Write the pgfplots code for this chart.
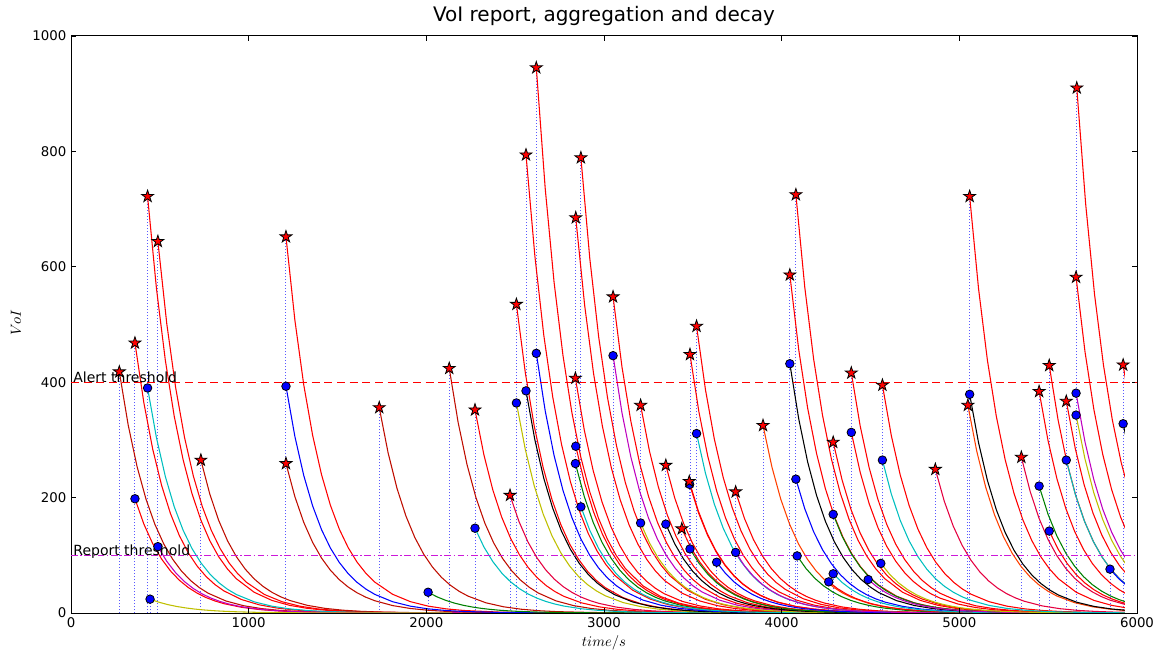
\documentclass[border=0pt]{standalone}
\usepackage{fontspec}
\setmainfont{DejaVu Sans}
\usepackage{pgfplots}
\usepackage{pgfplotstable}
\pgfplotsset{compat=1.18}
\definecolor{mb}{rgb}{0,0,1}
\definecolor{mg}{rgb}{0,0.5,0}
\definecolor{mr}{rgb}{1,0,0}
\definecolor{mc}{rgb}{0,0.75,0.75}
\definecolor{mm}{rgb}{0.75,0,0.75}
\definecolor{my}{rgb}{0.75,0.75,0}
\definecolor{mk}{rgb}{0,0,0}
\definecolor{dred}{rgb}{0.75,0.05,0}
\definecolor{ored}{rgb}{1,0.25,0}
\definecolor{cred}{rgb}{0.9,0,0.25}
\definecolor{vline}{rgb}{0.35,0.35,1}
\definecolor{rline}{rgb}{0.8,0.1,0.85}

\pgfdeclareplotmark{fstar}{%
  \pgfpathmoveto{\pgfpointpolar{90}{\pgfplotmarksize}}%
  \pgfpathlineto{\pgfpointpolar{126}{0.382\pgfplotmarksize}}%
  \pgfpathlineto{\pgfpointpolar{162}{\pgfplotmarksize}}%
  \pgfpathlineto{\pgfpointpolar{198}{0.382\pgfplotmarksize}}%
  \pgfpathlineto{\pgfpointpolar{234}{\pgfplotmarksize}}%
  \pgfpathlineto{\pgfpointpolar{270}{0.382\pgfplotmarksize}}%
  \pgfpathlineto{\pgfpointpolar{306}{\pgfplotmarksize}}%
  \pgfpathlineto{\pgfpointpolar{342}{0.382\pgfplotmarksize}}%
  \pgfpathlineto{\pgfpointpolar{18}{\pgfplotmarksize}}%
  \pgfpathlineto{\pgfpointpolar{54}{0.382\pgfplotmarksize}}%
  \pgfpathclose
  \pgfusepathqfillstroke
}

% decay profile read from the curves (fraction of start value vs. elapsed time)
\pgfplotstableread{
dt f
0 1
50 0.7788
100 0.6065
150 0.4724
200 0.3679
250 0.2865
300 0.2231
350 0.1738
400 0.1353
450 0.1054
500 0.0821
600 0.0498
700 0.0302
800 0.0183
900 0.0111
1000 0.0067
1200 0.0025
1400 0.0009
1700 0.0002
}\decay

% aggregated VoI (stars)
\pgfplotstableread{
t v
272 418
360 468
431 722
489 644
731 265
1210 652
1210 259
1735 356
2129 424
2274 352
2471 204
2507 535
2561 794
2619 945
2841 685
2870 789
2839 407
3051 548
3206 360
3348 256
3438 146
3484 448
3521 497
3480 228
3741 210
3895 325
4046 586
4080 725
4290 296
4392 416
4567 395
4865 249
5058 722
5048 360
5349 270
5449 384
5506 429
5602 367
5657 582
5661 910
5922 430
}\stars

% reports (circles)
\pgfplotstableread{
t v
360 198
431 390
489 115
445 24
1210 393
2010 36
2274 147
2507 364
2561 385
2619 450
2839 259
2841 289
2870 184
3051 446
3206 156
3348 154
3484 111
3482 223
3521 311
3634 88
3741 105
4046 432
4080 232
4087 99
4265 54
4290 68
4290 171
4392 313
4487 58
4558 86
4567 265
5058 379
5449 220
5506 142
5602 265
5657 381
5657 343
5848 76
5922 328
}\circs

\newcommand{\dec}[3]{\addplot[#1] table[x expr=\thisrow{dt}+#2, y expr=\thisrow{f}*#3] {\decay};}

\begin{document}
\begin{tikzpicture}
% curves, clipped at the end of the run (t = 5932 s)
\begin{axis}[
  scale only axis, width=790.44pt, height=432.75pt,
  xmin=0, xmax=5932, ymin=0, ymax=1000,
  hide axis, clip=true,
  every axis plot/.append style={line width=0.8pt, no markers},
]
\addplot[ycomb, vline, line width=0.75pt, dash pattern=on 0.75pt off 1.5pt] table[x=t, y=v] {\stars};
\addplot[ycomb, vline, line width=0.75pt, dash pattern=on 0.75pt off 1.5pt] table[x=t, y=v] {\circs};
% star curves
\dec{dred}{272}{418}
\dec{mr}{360}{468}
\dec{mr}{431}{722}
\dec{mr}{489}{644}
\dec{dred}{731}{265}
\dec{mr}{1210}{652}
\dec{dred}{1210}{259}
\dec{dred}{1735}{356}
\dec{dred}{2129}{424}
\dec{mr}{2274}{352}
\dec{cred}{2471}{204}
\dec{mr}{2507}{535}
\dec{mr}{2561}{794}
\dec{mr}{2619}{945}
\dec{mr}{2841}{685}
\dec{mr}{2870}{789}
\dec{mr}{2839}{407}
\dec{mr}{3051}{548}
\dec{mr}{3206}{360}
\dec{mr}{3348}{256}
\dec{mr}{3438}{146}
\dec{mr}{3484}{448}
\dec{mr}{3521}{497}
\dec{mr}{3480}{228}
\dec{mr}{3741}{210}
\dec{ored}{3895}{325}
\dec{mr}{4046}{586}
\dec{mr}{4080}{725}
\dec{mr}{4290}{296}
\dec{mr}{4392}{416}
\dec{mr}{4567}{395}
\dec{cred}{4865}{249}
\dec{mr}{5058}{722}
\dec{ored}{5048}{360}
\dec{cred}{5349}{270}
\dec{mr}{5449}{384}
\dec{mr}{5506}{429}
\dec{mr}{5602}{367}
\dec{mr}{5657}{582}
\dec{mr}{5661}{910}
\dec{mr}{5922}{430}
% report curves
\dec{mr}{360}{198}
\dec{mc}{431}{390}
\dec{mm}{489}{115}
\dec{my}{445}{24}
\dec{mb}{1210}{393}
\dec{mg}{2010}{36}
\dec{mc}{2274}{147}
\dec{my}{2507}{364}
\dec{mk}{2561}{385}
\dec{mb}{2619}{450}
\dec{mg}{2839}{259}
\dec{mr}{2841}{289}
\dec{mc}{2870}{184}
\dec{mm}{3051}{446}
\dec{my}{3206}{156}
\dec{mk}{3348}{154}
\dec{mg}{3484}{111}
\dec{mr}{3482}{223}
\dec{mc}{3521}{311}
\dec{mb}{3634}{88}
\dec{mm}{3741}{105}
\dec{mk}{4046}{432}
\dec{mb}{4080}{232}
\dec{mg}{4087}{99}
\dec{mr}{4265}{54}
\dec{mc}{4290}{68}
\dec{mg}{4290}{171}
\dec{mr}{4392}{313}
\dec{mm}{4487}{58}
\dec{my}{4558}{86}
\dec{mc}{4567}{265}
\dec{mk}{5058}{379}
\dec{mg}{5449}{220}
\dec{mr}{5506}{142}
\dec{mc}{5602}{265}
\dec{mm}{5657}{381}
\dec{my}{5657}{343}
\dec{mb}{5848}{76}
\dec{mk}{5922}{328}
\end{axis}
% main axis
\begin{axis}[
  scale only axis, width=799.5pt, height=432.75pt,
  xmin=0, xmax=6000, ymin=0, ymax=1000,
  xtick={0,1000,...,6000}, ytick={0,200,...,1000},
  tick align=inside, tick pos=both,
  major tick length=4pt,
  tick style={black, line width=0.6pt},
  axis line style={black, line width=0.75pt},
  ticklabel style={font=\fontsize{10}{12}\selectfont},
  /pgf/number format/assume math mode=true,
  /pgf/number format/1000 sep={},
  title={VoI report, aggregation and decay},
  title style={font=\fontsize{15}{18}\selectfont, at={(0.5,1)}, anchor=base, yshift=4.5pt, inner sep=0pt},
  xlabel={$time/s$},
  xlabel style={font=\fontsize{11}{13}\selectfont, at={(axis description cs:0.5,-0.051)}, anchor=center},
  ylabel={$VoI$},
  ylabel style={font=\fontsize{10.5}{12}\selectfont, at={(axis description cs:-0.0516,0.503)}, anchor=center},
]
\addplot[mr, line width=0.9pt, dash pattern=on 6pt off 3.5pt, no markers] coordinates {(0,400) (6000,400)};
\addplot[rline, line width=0.9pt, dash pattern=on 5pt off 2pt on 1pt off 2pt, no markers] coordinates {(0,100) (6000,100)};
\node[anchor=base west, inner sep=0pt, font=\fontsize{10.5}{12}\selectfont] at (axis cs:12,400) {Alert threshold};
\node[anchor=base west, inner sep=0pt, font=\fontsize{10.5}{12}\selectfont] at (axis cs:12,100) {Report threshold};
\addplot[only marks, mark=*, mark size=3.2pt, mark options={fill=mb, draw=black, line width=0.6pt}] table[x=t, y=v] {\circs};
\addplot[only marks, mark=fstar, mark size=4.7pt, mark options={fill=mr, draw=black, line width=0.6pt}] table[x=t, y=v] {\stars};
\end{axis}
\pgfresetboundingbox
\path[use as bounding box] (-53.25pt,-30.75pt) rectangle (821.25pt,459.75pt);
\end{tikzpicture}
\end{document}
